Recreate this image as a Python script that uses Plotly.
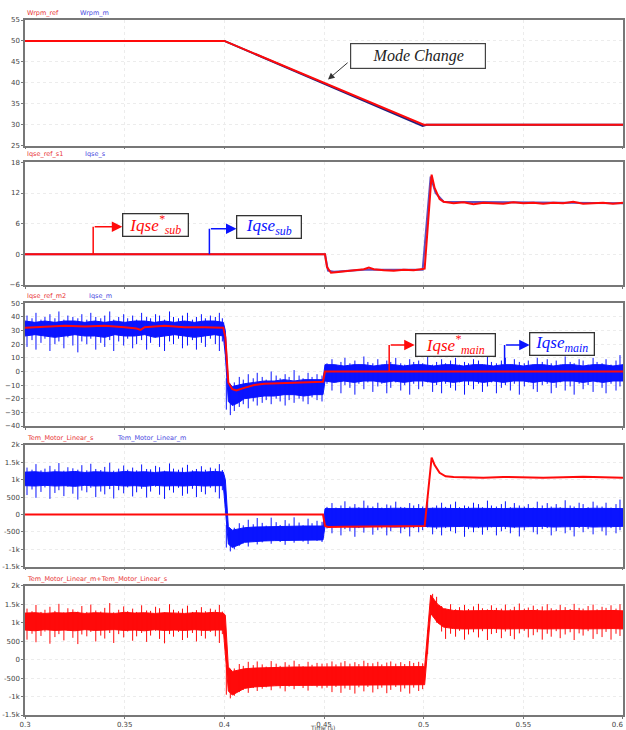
import numpy as np
import plotly.graph_objects as go

# ---------------- data ----------------
# Panel 1: speed
t_wrpm_ref = [0.3, 0.4, 0.5, 0.6]
wrpm_ref = [50, 50, 30, 30]
t_wrpm_m = [0.3, 0.4, 0.4995, 0.5015, 0.6]
wrpm_m = [50, 50, 29.7, 30, 30]

# Panel 2: sub current
t_iqse_ref_s1 = [0.3, 0.4505, 0.4515, 0.4535, 0.456, 0.46, 0.465, 0.47, 0.4725, 0.475, 0.48, 0.485, 0.49, 0.495, 0.5005,
                 0.504, 0.5055, 0.508, 0.51,
                 0.515, 0.52, 0.525, 0.53, 0.535, 0.54, 0.545, 0.55, 0.555, 0.56, 0.565, 0.57, 0.575, 0.58, 0.585, 0.59, 0.595, 0.6]
iqse_ref_s1 = [0, 0, -2.5, -3.6, -3.5, -3.3, -3.1, -2.9, -2.6, -2.9, -3.1, -3.2, -3.0, -3.1, -2.8,
               15.6, 13, 10.8, 10.3,
               10.0, 10.2, 9.8, 10.1, 10.0, 9.9, 10.2, 10.0, 10.1, 9.9, 10.1, 10.0, 10.3, 9.9, 10.0, 10.1, 9.9, 10.1]
t_iqse_s = [0.3, 0.4505, 0.452, 0.455, 0.47, 0.49, 0.4995, 0.5035, 0.506, 0.51, 0.6]
iqse_s = [0, 0, -3.2, -3.4, -3.0, -3.0, -3.0, 15.2, 12, 10.3, 10.0]

# Panel 3: main current reference
t_iqse_ref_m2 = [0.300, 0.310, 0.320, 0.330, 0.340, 0.350, 0.356, 0.358, 0.360, 0.370, 0.380, 0.390, 0.3995,
                 0.4005, 0.402, 0.404, 0.406, 0.410, 0.415, 0.420, 0.430, 0.440, 0.4495,
                 0.4505, 0.600]
iqse_ref_m2 = [32, 32.5, 33.5, 33, 33.5, 32.5, 31.5, 30.5, 32.5, 33.5, 32.5, 32.5, 32,
               25, -8, -13, -14, -12, -10, -9, -8.5, -8, -7.5,
               0, 0]

# Sample times for the dense core of the noisy signals (panels 3, 4)
t_band = [0.300, 0.305, 0.310, 0.315, 0.320, 0.325, 0.330, 0.335, 0.340, 0.345, 0.350, 0.355, 0.360, 0.365, 0.370,
          0.375, 0.380, 0.385, 0.390, 0.395, 0.3995,
          0.4005, 0.402, 0.404, 0.407, 0.410, 0.415, 0.420, 0.425, 0.430, 0.435, 0.440, 0.445, 0.4495,
          0.4505, 0.455, 0.460, 0.465, 0.470, 0.475, 0.480, 0.485, 0.490, 0.495, 0.500, 0.505, 0.510, 0.515,
          0.520, 0.525, 0.530, 0.535, 0.540, 0.545, 0.550, 0.555, 0.560, 0.565, 0.570, 0.575, 0.580, 0.585,
          0.590, 0.595, 0.600]

# Panel 3: Iqse_m dense core (upper / lower)
iqse_m_hi = [37, 36, 37, 36, 37, 37, 36, 37, 36, 37, 36, 37, 37, 36, 37, 36, 37, 36, 37, 37, 36,
             30, -8, -11, -10, -9, -8, -7, -7, -6, -7, -6, -6, -6,
             5, 5, 4, 5, 5, 4, 5, 5, 4, 5, 5, 4, 5, 5, 4, 5, 5, 4, 5, 5, 4, 5, 5, 4, 5, 5, 4, 5, 5, 4, 5]
iqse_m_lo = [26, 27, 26, 25, 26, 27, 26, 26, 25, 27, 26, 26, 27, 25, 26, 27, 26, 25, 26, 27, 26,
             12, -22, -25, -23, -20, -19, -18, -18, -17, -17, -18, -17, -17,
             -7, -8, -7, -8, -7, -7, -8, -7, -8, -7, -7, -8, -7, -8, -7, -7, -8, -7, -8, -7, -7, -8, -7,
             -8, -7, -7, -8, -7, -8, -7, -7]

# Times of the individual noise excursions (panels 3, 4, 5)
spk_t = [0.3010, 0.3035, 0.3055, 0.3080, 0.3100, 0.3125, 0.3150, 0.3170, 0.3195, 0.3215, 0.3240, 0.3265, 0.3285,
         0.3310, 0.3330, 0.3355, 0.3380, 0.3400, 0.3425, 0.3445, 0.3470, 0.3495, 0.3515, 0.3540, 0.3560, 0.3585,
         0.3610, 0.3630, 0.3655, 0.3675, 0.3700, 0.3725, 0.3745, 0.3770, 0.3790, 0.3815, 0.3840, 0.3860, 0.3885,
         0.3905, 0.3930, 0.3955, 0.3975, 0.3990,
         0.4010, 0.4030, 0.4050, 0.4075, 0.4095, 0.4120, 0.4145, 0.4165, 0.4190, 0.4210, 0.4235, 0.4260, 0.4280,
         0.4305, 0.4325, 0.4350, 0.4375, 0.4395, 0.4420, 0.4440, 0.4465, 0.4490,
         0.4515, 0.4540, 0.4560, 0.4585, 0.4605, 0.4630, 0.4655, 0.4675, 0.4700, 0.4720, 0.4745, 0.4770, 0.4790,
         0.4815, 0.4835, 0.4860, 0.4885, 0.4905, 0.4930, 0.4950, 0.4975, 0.4995, 0.5020, 0.5045, 0.5065, 0.5090,
         0.5110, 0.5135, 0.5160, 0.5180, 0.5205, 0.5225, 0.5250, 0.5275, 0.5295, 0.5320, 0.5340, 0.5365, 0.5390,
         0.5410, 0.5435, 0.5455, 0.5480, 0.5505, 0.5525, 0.5550, 0.5570, 0.5595, 0.5620, 0.5640, 0.5665, 0.5685,
         0.5710, 0.5735, 0.5755, 0.5780, 0.5800, 0.5825, 0.5850, 0.5870, 0.5895, 0.5915, 0.5940, 0.5965, 0.5985]

iqse_m_spk_hi = [41, 39, 43, 38, 40, 42, 39, 44, 38, 41, 40, 39, 42, 38, 43, 40, 39, 41, 44, 38, 40, 42, 39, 41,
                 38, 43, 40, 39, 42, 41, 38, 44, 40, 39, 41, 43, 38, 40, 42, 39, 41, 40, 43, 39,
                 -5, -9, -8, -4, -6, -2, -5, -1, -4, -6, 0, -3, -5, -2, -4, 1, -3, -5, -1, -4, -2, -3,
                 6, 9, 5, 7, 10, 6, 8, 5, 11, 7, 6, 9, 5, 8, 7, 10, 6, 5, 9, 7, 8, 6, 11, 5, 7, 9, 6, 8, 10, 5,
                 7, 6, 9, 8, 5, 11, 7, 6, 8, 10, 5, 9, 7, 6, 8, 5, 10, 7, 9, 6, 8, 5, 11, 7, 6, 9, 8, 5, 10, 7,
                 6, 9, 5, 8, 12]
iqse_m_spk_lo = [18, 23, 16, 21, 24, 15, 20, 22, 17, 25, 19, 14, 22, 20, 24, 16, 21, 18, 23, 15, 22, 19, 24, 17,
                 20, 23, 16, 21, 25, 18, 15, 22, 20, 24, 17, 19, 23, 16, 21, 18, 24, 20, 15, 22,
                 -28, -32, -29, -26, -24, -27, -22, -25, -23, -21, -24, -20, -22, -25, -21, -23, -20, -22, -24,
                 -19, -21, -22,
                 -9, -14, -8, -16, -10, -12, -17, -9, -13, -8, -15, -11, -9, -16, -12, -8, -14, -10, -17, -9,
                 -13, -11, -8, -15, -10, -16, -9, -12, -14, -8, -17, -10, -13, -9, -15, -11, -8, -16, -12, -10,
                 -14, -9, -17, -11, -8, -13, -15, -10, -9, -16, -12, -8, -14, -11, -17, -9, -13, -10, -15, -8,
                 -12, -16, -9, -14, -11]

# Panel 4: torques
t_tem_s = [0.300, 0.4495, 0.4505, 0.452, 0.46, 0.47, 0.48, 0.49, 0.5005,
           0.504, 0.5055, 0.508, 0.511, 0.515, 0.52, 0.53, 0.54, 0.55, 0.56, 0.57, 0.58, 0.59, 0.6]
tem_s = [0, 0, -330, -360, -350, -345, -340, -335, -330,
         1640, 1420, 1200, 1100, 1080, 1070, 1060, 1080, 1070, 1060, 1075, 1090, 1070, 1060]
tem_m_hi = [1220, 1230, 1210, 1230, 1220, 1240, 1210, 1230, 1220, 1210, 1240, 1220, 1230, 1210, 1230, 1220,
            1210, 1230, 1220, 1240, 1220,
            1000, -350, -450, -420, -380, -360, -350, -340, -340, -340, -330, -330, -330,
            170, 180, 170, 180, 170, 180, 170, 180, 170, 180, 170, 180, 170, 180, 170, 180, 170, 180, 170, 180,
            170, 180, 170, 180, 170, 180, 170, 180, 170, 180, 170]
tem_m_lo = [830, 820, 840, 820, 830, 810, 840, 820, 830, 840, 820, 830, 810, 840, 820, 830, 820, 840, 820, 830, 830,
            300, -850, -950, -880, -800, -780, -760, -750, -740, -740, -730, -730, -730,
            -340, -350, -340, -360, -340, -350, -340, -360, -340, -350, -340, -360, -340, -350, -340, -360,
            -340, -350, -340, -360, -340, -350, -340, -360, -340, -350, -340, -360, -340, -350, -340]
tem_m_spk_hi = [1350, 1290, 1450, 1270, 1320, 1400, 1300, 1480, 1260, 1360, 1330, 1290, 1420, 1270, 1460, 1310,
                1280, 1370, 1490, 1260, 1320, 1410, 1290, 1350, 1270, 1440, 1310, 1300, 1400, 1360, 1260, 1470,
                1320, 1290, 1350, 1430, 1270, 1310, 1390, 1290, 1350, 1320, 1450, 1280,
                -300, -420, -380, -250, -310, -150, -280, -100, -240, -320, -90, -220, -300, -160, -260, -80,
                -230, -310, -120, -250, -180, -210,
                220, 330, 200, 260, 380, 230, 300, 210, 400, 260, 230, 340, 200, 290, 260, 370, 220, 210, 330, 260,
                300, 230, 410, 200, 260, 340, 220, 290, 370, 210, 260, 230, 340, 300, 210, 400, 260, 230, 300, 380,
                210, 330, 260, 230, 300, 200, 370, 260, 330, 230, 300, 210, 410, 260, 230, 340, 300, 210, 370, 260,
                230, 340, 200, 300, 430]
tem_m_spk_lo = [560, 720, 480, 650, 780, 450, 620, 700, 530, 800, 600, 430, 690, 640, 770, 500, 660, 580, 730, 460,
                700, 610, 780, 520, 640, 740, 490, 660, 800, 570, 450, 700, 630, 770, 540, 600, 740, 500, 650, 580,
                770, 640, 460, 700,
                -950, -1060, -1000, -900, -830, -920, -780, -860, -800, -760, -840, -720, -790, -870, -740, -810,
                -720, -780, -850, -700, -760, -790,
                -400, -540, -370, -600, -420, -480, -640, -390, -520, -360, -580, -450, -400, -600, -480, -360,
                -540, -420, -630, -390, -510, -450, -370, -570, -420, -600, -390, -480, -540, -360, -640, -420,
                -510, -390, -580, -450, -370, -600, -480, -420, -540, -390, -630, -450, -360, -510, -570, -420,
                -390, -600, -480, -360, -540, -450, -630, -390, -510, -420, -570, -360, -480, -600, -390, -540,
                -450]

# Panel 5: total torque
t_sum = [0.300, 0.305, 0.310, 0.315, 0.320, 0.325, 0.330, 0.335, 0.340, 0.345, 0.350, 0.355, 0.360, 0.365, 0.370,
         0.375, 0.380, 0.385, 0.390, 0.395, 0.3995,
         0.4005, 0.402, 0.404, 0.407, 0.410, 0.415, 0.420, 0.425, 0.430, 0.435, 0.440, 0.445, 0.4495,
         0.455, 0.460, 0.465, 0.470, 0.475, 0.480, 0.485, 0.490, 0.495, 0.5005,
         0.5035, 0.505, 0.507, 0.510, 0.515, 0.520, 0.525, 0.530, 0.535, 0.540, 0.545, 0.550, 0.555, 0.560,
         0.565, 0.570, 0.575, 0.580, 0.585, 0.590, 0.595, 0.600]
tem_sum_hi = [1260, 1270, 1250, 1270, 1260, 1280, 1250, 1270, 1260, 1250, 1280, 1260, 1270, 1250, 1270, 1260,
              1250, 1270, 1260, 1280, 1260,
              1200, -200, -320, -280, -250, -230, -220, -210, -210, -200, -200, -200, -200,
              -190, -200, -190, -200, -190, -200, -190, -200, -190, -190,
              1750, 1650, 1500, 1380, 1330, 1320, 1330, 1320, 1330, 1320, 1330, 1320, 1330, 1320, 1330, 1320,
              1330, 1320, 1330, 1320, 1330, 1320]
tem_sum_lo = [800, 780, 810, 790, 800, 780, 810, 790, 800, 810, 790, 800, 780, 810, 790, 800, 790, 810, 790, 800, 800,
              300, -850, -960, -880, -780, -740, -720, -710, -700, -700, -690, -690, -690,
              -680, -690, -680, -690, -680, -690, -680, -690, -680, -680,
              1250, 1150, 1000, 880, 840, 830, 840, 830, 840, 830, 840, 830, 840, 830, 840, 830, 840, 830, 840,
              830, 840, 830]
tem_sum_spk_hi = [1380, 1310, 1480, 1290, 1350, 1430, 1320, 1510, 1280, 1390, 1360, 1300, 1450, 1290, 1490, 1330,
                  1300, 1400, 1530, 1280, 1350, 1440, 1310, 1380, 1290, 1470, 1330, 1320, 1430, 1390, 1280, 1500,
                  1350, 1310, 1380, 1460, 1290, 1340, 1420, 1310, 1380, 1350, 1480, 1300,
                  -150, -250, -240, -120, -170, -60, -150, -50, -130, -190, -40, -110, -170, -70, -140, -30,
                  -120, -180, -60, -140, -90, -110,
                  -100, -50, -130, -80, -40, -110, -70, -120, -30, -90, -100, -60, -130, -80, -50, -110, -70,
                  -120, -40, -90, -60, -100,
                  800, 1780, 1700,
                  1450, 1380, 1500, 1360, 1420, 1480, 1370, 1440, 1510, 1390, 1360, 1470, 1400, 1380, 1490, 1360,
                  1430, 1520, 1380, 1410, 1460, 1370, 1440, 1500, 1390, 1360, 1480, 1420, 1370, 1510, 1400, 1380,
                  1450, 1490, 1360, 1430, 1400, 1470, 1380, 1500]
tem_sum_spk_lo = [540, 700, 470, 640, 760, 430, 610, 690, 520, 780, 590, 420, 680, 630, 750, 490, 650, 570, 720, 450,
                  690, 600, 760, 510, 630, 720, 480, 650, 780, 560, 440, 690, 620, 750, 530, 590, 720, 490, 640, 570,
                  750, 630, 450, 690,
                  -950, -1050, -980, -880, -820, -900, -770, -850, -790, -750, -830, -710, -780, -860, -730, -800,
                  -710, -770, -840, -700, -750, -780,
                  -760, -880, -740, -900, -780, -820, -920, -750, -860, -740, -890, -800, -760, -910, -820, -740,
                  -870, -780, -920, -760, -850, -800,
                  150, 1300, 1000,
                  760, 560, 700, 620, 780, 540, 680, 740, 600, 770, 530, 690, 720, 580, 760, 640, 550, 710, 780, 600,
                  660, 740, 540, 700, 620, 770, 580, 680, 740, 530, 710, 650, 770, 560, 690, 610, 750, 540, 700, 640]

# Tick labels
x_ticks = [0.3, 0.35, 0.4, 0.45, 0.5, 0.55, 0.6]
x_ticktext = ['0.3', '0.35', '0.4', '0.45', '0.5', '0.55', '0.6\u00a0\u00a0\u00a0\u00a0\u00a0']
y1_ticks = [25, 30, 35, 40, 45, 50, 55]
y2_ticks = [-6, 0, 6, 12, 18]
y3_ticks = [-40, -30, -20, -10, 0, 10, 20, 30, 40, 50]
yk_ticks = [-1500, -1000, -500, 0, 500, 1000, 1500, 2000]
yk_ticktext = ['-1.5k', '-1k', '-500', '0', '500', '1k', '1.5k', '2k']

labels_red = ['Wrpm_ref', 'Iqse_ref_s1', 'Iqse_ref_m2', 'Tem_Motor_Linear_s', 'Tem_Motor_Linear_m+Tem_Motor_Linear_s']
labels_blue = ['Wrpm_m', 'Iqse_s', 'Iqse_m', 'Tem_Motor_Linear_m', '']

# ---------------- styling ----------------
RED = '#ff0a0a'
BLUE = '#0a14ff'
LBL_RED = '#e83434'
LBL_BLUE = '#4848e0'
W, H = 626, 730
ML, MR, MT, MB = 25, 3, 20, 15
domains = [[0.8192, 1.0], [0.6187, 0.7952], [0.4158, 0.5924], [0.2134, 0.3885], [0.0, 0.1860]]
label_py = [13, 154.5, 296, 437.5, 578.5]
blue_px = [78, 83, 87, 115, 0]

fig = go.Figure()


def ax(i):
    return ('x' if i == 1 else f'x{i}'), ('y' if i == 1 else f'y{i}')


def line(t, v, color, i, width=2):
    xa, ya = ax(i)
    fig.add_trace(go.Scatter(x=t, y=v, mode='lines', line=dict(color=color, width=width),
                             xaxis=xa, yaxis=ya, showlegend=False, hoverinfo='skip'))


def band(t, hi, lo, color, i):
    xa, ya = ax(i)
    fig.add_trace(go.Scatter(x=list(t) + list(t)[::-1], y=list(hi) + list(lo)[::-1], mode='lines',
                             fill='toself', fillcolor=color, line=dict(color=color, width=1),
                             xaxis=xa, yaxis=ya, showlegend=False, hoverinfo='skip'))


def spikes(st, shi, slo, color, i):
    xa, ya = ax(i)
    xs, ys = [], []
    for a, h, l in zip(st, shi, slo):
        xs += [a, a, None]
        ys += [l, h, None]
    fig.add_trace(go.Scatter(x=xs, y=ys, mode='lines', line=dict(color=color, width=1),
                             xaxis=xa, yaxis=ya, showlegend=False, hoverinfo='skip'))


# Panel 1
line(t_wrpm_m, wrpm_m, '#202080', 1, 2)
line(t_wrpm_ref, wrpm_ref, RED, 1, 2)
# Panel 2
line(t_iqse_s, iqse_s, '#6050c0', 2, 2)
line(t_iqse_ref_s1, iqse_ref_s1, RED, 2, 2)
# Panel 3
band(t_band, iqse_m_hi, iqse_m_lo, BLUE, 3)
spikes(spk_t, iqse_m_spk_hi, iqse_m_spk_lo, BLUE, 3)
line(t_iqse_ref_m2, iqse_ref_m2, RED, 3, 2)
# Panel 4
band(t_band, tem_m_hi, tem_m_lo, BLUE, 4)
spikes(spk_t, tem_m_spk_hi, tem_m_spk_lo, BLUE, 4)
line(t_tem_s, tem_s, RED, 4, 2)
# Panel 5
band(t_sum, tem_sum_hi, tem_sum_lo, RED, 5)
spikes(spk_t, tem_sum_spk_hi, tem_sum_spk_lo, RED, 5)

tickfont = dict(family='DejaVu Sans', size=7, color='#444')
axis_common = dict(showline=True, linecolor='#777', linewidth=1.5, mirror=True, ticks='outside',
                   ticklen=2, tickcolor='#777', tickfont=tickfont, showgrid=True, gridcolor='#ececec',
                   griddash='dot', zeroline=False, automargin=False, ticklabeloverflow='allow')
yranges = [[25, 55], [-6, 18], [-40, 50], [-1500, 2000], [-1500, 2000]]
yticks = [y1_ticks, y2_ticks, y3_ticks, yk_ticks, yk_ticks]
yticktexts = [None, None, None, yk_ticktext, yk_ticktext]

layout = {}
for i in range(1, 6):
    xk = 'xaxis' if i == 1 else f'xaxis{i}'
    yk = 'yaxis' if i == 1 else f'yaxis{i}'
    xa, ya = ax(i)
    layout[xk] = dict(axis_common, domain=[0, 1], range=[0.29999, 0.60001], anchor=ya, tickvals=x_ticks,
                      ticktext=x_ticktext, showticklabels=(i == 5))
    if i > 1:
        layout[xk]['matches'] = 'x'
    yd = dict(axis_common, domain=domains[i - 1], range=yranges[i - 1], anchor=xa, tickvals=yticks[i - 1])
    if yticktexts[i - 1] is not None:
        yd['ticktext'] = yticktexts[i - 1]
    layout[yk] = yd

fig.update_layout(**layout)

annotations = []
pw = W - ML - MR
ph = H - MT - MB
for i in range(5):
    ypaper = (H - MB - label_py[i]) / ph
    annotations.append(dict(x=0, y=ypaper, xref='paper', yref='paper', xanchor='left', yanchor='middle',
                            text=labels_red[i], showarrow=False,
                            font=dict(family='DejaVu Sans', size=6.5, color=LBL_RED)))
    if labels_blue[i]:
        annotations.append(dict(x=(blue_px[i] - ML) / pw, y=ypaper, xref='paper', yref='paper',
                                xanchor='left', yanchor='middle', text=labels_blue[i], showarrow=False,
                                font=dict(family='DejaVu Sans', size=6.5, color=LBL_BLUE)))

# Time label
annotations.append(dict(x=(322 - ML) / pw, y=(H - MB - 727) / ph, xref='paper', yref='paper',
                        text='Time (s)', showarrow=False, xanchor='center', yanchor='middle',
                        font=dict(family='DejaVu Sans', size=6, color='#444')))

serif = 'Liberation Serif'
# Mode change box + arrow
annotations.append(dict(x=0.497, y=46.5, xref='x', yref='y', text='<i>Mode Change</i>', showarrow=False,
                        font=dict(family=serif, size=16, color='#222'), bgcolor='white',
                        bordercolor='#444', borderwidth=1.2, width=132, height=22))
annotations.append(dict(x=0.452, y=40.8, ax=0.4626, ay=45.1, xref='x', yref='y', axref='x', ayref='y',
                        text='', showarrow=True, arrowhead=2, arrowsize=1.3, arrowwidth=1,
                        arrowcolor='#333', standoff=0))

boxes = [
    # (panel, center t, center y, text, color, width px, vertical t, corner y, box-left t, base y)
    (2, 0.3654, 5.7, '<i>Iqse<sup>*</sup><sub>sub</sub></i>', RED, 62, 0.3342, 5.4, 0.3488, 0),
    (2, 0.4225, 5.3, '<i>Iqse<sub>sub</sub></i>', BLUE, 61, 0.3925, 5.0, 0.4061, 0),
    (3, 0.5158, 19.6, '<i>Iqse<sup>*</sup><sub>main</sub></i>', RED, 76, 0.4827, 19.4, 0.4955, 0),
    (3, 0.5695, 20.0, '<i>Iqse<sub>main</sub></i>', BLUE, 61, 0.5406, 19.4, 0.5532, 5),
]
shapes = []
for p, cx, cy, txt, col, wpx, tv, yc, tl, yb in boxes:
    xa, ya = ax(p)
    annotations.append(dict(x=cx, y=cy, xref=xa, yref=ya, text=txt, showarrow=False,
                            font=dict(family=serif, size=17, color=col), bgcolor='white',
                            bordercolor='#333', borderwidth=1.3, width=wpx, height=19))
    shapes.append(dict(type='line', xref=xa, yref=ya, x0=tv, x1=tv, y0=yb, y1=yc,
                       line=dict(color=col, width=1.5)))
    annotations.append(dict(x=tl, y=yc, ax=tv, ay=yc, xref=xa, yref=ya, axref=xa, ayref=ya, text='',
                            showarrow=True, arrowhead=2, arrowsize=1.4, arrowwidth=1.5, arrowcolor=col,
                            standoff=0))

fig.update_layout(width=W, height=H, margin=dict(l=ML, r=MR, t=MT, b=MB, autoexpand=False),
                  paper_bgcolor='white', plot_bgcolor='white', showlegend=False,
                  annotations=annotations, shapes=shapes)

fig.write_html('out.html', config={'displayModeBar': False},
               post_script="document.body.style.margin='0';document.body.style.overflow='hidden';")
